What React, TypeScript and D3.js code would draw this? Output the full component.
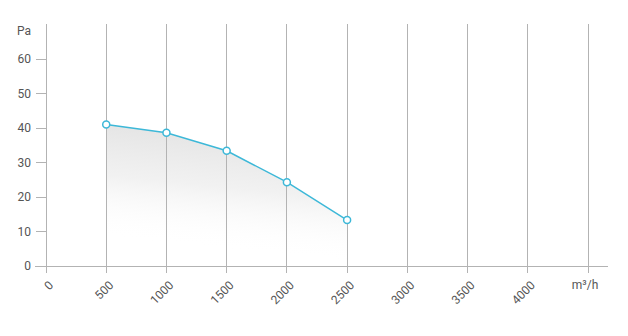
import React from "react";
import * as d3 from "d3";

const flowTicks = [0, 500, 1000, 1500, 2000, 2500, 3000, 3500, 4000];
const pressureTicks = [0, 10, 20, 30, 40, 50, 60];
const flow = [500, 1000, 1500, 2000, 2500];
const pressure = [41, 38.6, 33.4, 24.3, 13.3];
const xUnit = "m³/h";
const yUnit = "Pa";

export default function App() {
  const W = 628, H = 336;
  const x = d3.scaleLinear().domain([0, 4500]).range([46, 588]);
  const y = d3.scaleLinear().domain([0, 70]).range([266, 24.5]);
  const pts = flow.map((f, i) => [f, pressure[i]] as [number, number]);
  const line = d3.line<[number, number]>().x(d => x(d[0])).y(d => y(d[1]));
  const area = d3.area<[number, number]>().x(d => x(d[0])).y0(y(0)).y1(d => y(d[1]));
  const font = "Roboto, 'Noto Sans', sans-serif";
  const textColor = "#555";
  return (
    <svg width={W} height={H} style={{ position: "absolute", left: 0, top: 0 }}>
      <defs>
        <linearGradient id="fillg" x1="0.45" y1="0" x2="0.3" y2="0.85">
          <stop offset="0" stopColor="#e2e2e2" stopOpacity="1" />
          <stop offset="0.5" stopColor="#eeeeee" stopOpacity="0.8" />
          <stop offset="1" stopColor="#ffffff" stopOpacity="0" />
        </linearGradient>
      </defs>
      {/* area */}
      <path d={area(pts) || ""} fill="url(#fillg)" />
      {/* vertical grid */}
      {[...flowTicks, 4500].map(t => (
        <line key={"g" + t} x1={x(t)} x2={x(t)} y1={24} y2={273} stroke="#b3b3b3" strokeWidth={1} shapeRendering="crispEdges" />
      ))}
      {/* horizontal axis */}
      <line x1={35} x2={608} y1={y(0)} y2={y(0)} stroke="#b3b3b3" strokeWidth={1} shapeRendering="crispEdges" />
      {/* y ticks */}
      {pressureTicks.map(t => (
        <g key={"y" + t}>
          <line x1={36} x2={46} y1={y(t)} y2={y(t)} stroke="#b3b3b3" strokeWidth={1} shapeRendering="crispEdges" />
          <text x={31} y={y(t)} dy="0.35em" textAnchor="end" fontFamily={font} fontSize={12} fill={textColor}>{t}</text>
        </g>
      ))}
      <text x={31} y={y(70) + 6} dy="0.35em" textAnchor="end" fontFamily={font} fontSize={12} fill={textColor}>{yUnit}</text>
      {/* x labels */}
      {flowTicks.map(t => (
        <text key={"x" + t} transform={`translate(${x(t) + 2},${280}) rotate(-45)`} textAnchor="end" dy="0.7em"
          fontFamily={font} fontSize={12} fill={textColor}>{t}</text>
      ))}
      <text x={x(4500) - 3} y={289} textAnchor="middle" fontFamily={font} fontSize={12} fill={textColor}>{xUnit}</text>
      <path d={line(pts) || ""} fill="none" stroke="#3db8d8" strokeWidth={1.5} />
      {pts.map((p, i) => (
        <circle key={i} cx={x(p[0])} cy={y(p[1])} r={3.5} fill="#fff" stroke="#3db8d8" strokeWidth={1.5} />
      ))}
    </svg>
  );
}
